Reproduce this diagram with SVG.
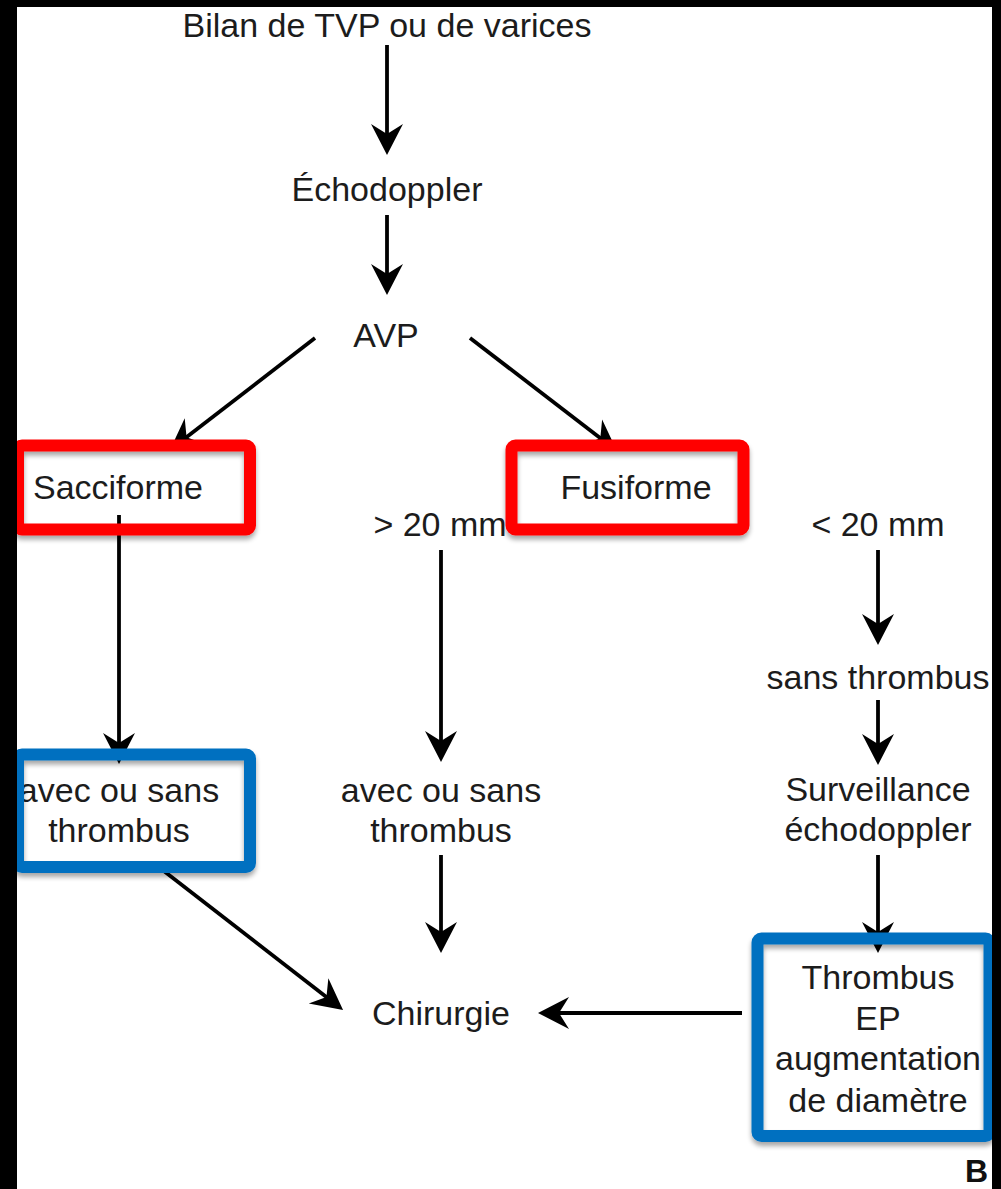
<svg xmlns="http://www.w3.org/2000/svg" width="1001" height="1189" viewBox="0 0 1001 1189">
<defs>
<style>
.t{font-family:"Liberation Sans",Arial,sans-serif;font-size:34px;fill:#1c1c1c;text-anchor:middle}
.l{stroke:#000;stroke-width:3.8;fill:none}
.red{fill:none;stroke:#ff0000;stroke-width:12}
.blue{fill:none;stroke:#0070c0;stroke-width:12}
</style>
<marker id="ah" markerUnits="userSpaceOnUse" markerWidth="60" markerHeight="60" refX="0" refY="0" orient="auto" overflow="visible">
<path d="M6,0 L-25,-16 L-15,0 L-25,16 Z" fill="#000"/>
</marker>
<filter id="sh" x="-10%" y="-10%" width="120%" height="130%">
<feGaussianBlur in="SourceAlpha" stdDeviation="2.5"/>
<feOffset dx="0" dy="4" result="b"/>
<feComponentTransfer><feFuncA type="linear" slope="0.35"/></feComponentTransfer>
<feMerge><feMergeNode/><feMergeNode in="SourceGraphic"/></feMerge>
</filter>
</defs>
<rect width="1001" height="1189" fill="#fff"/>
<g id="connectors">
<line class="l" x1="387" y1="45" x2="387" y2="149" marker-end="url(#ah)"/>
<line class="l" x1="387" y1="215" x2="387" y2="289" marker-end="url(#ah)"/>
<line class="l" x1="315" y1="338" x2="174.7" y2="446.3" marker-end="url(#ah)"/>
<line class="l" x1="470" y1="338" x2="612.2" y2="447.3" marker-end="url(#ah)"/>
<line class="l" x1="119" y1="515" x2="119" y2="758" marker-end="url(#ah)"/>
<line class="l" x1="441" y1="550" x2="441" y2="756" marker-end="url(#ah)"/>
<line class="l" x1="441" y1="855" x2="441" y2="947" marker-end="url(#ah)"/>
<line class="l" x1="160" y1="868" x2="338.3" y2="1006.3" marker-end="url(#ah)"/>
<line class="l" x1="742" y1="1013" x2="544" y2="1013" marker-end="url(#ah)"/>
<line class="l" x1="878" y1="550" x2="878" y2="639" marker-end="url(#ah)"/>
<line class="l" x1="878" y1="700" x2="878" y2="759" marker-end="url(#ah)"/>
<line class="l" x1="878" y1="855" x2="878" y2="947" marker-end="url(#ah)"/>
</g>
<g id="n-bilan"><text class="t" x="387" y="37">Bilan de TVP ou de varices</text></g>
<g id="n-echo"><text class="t" x="387" y="201">Échodoppler</text></g>
<g id="n-avp"><text class="t" x="386" y="347">AVP</text></g>
<g id="n-gt20"><text class="t" x="440" y="536">&gt; 20 mm</text></g>
<g id="n-lt20"><text class="t" x="878" y="536">&lt; 20 mm</text></g>
<g id="n-sacc">
<text class="t" x="118" y="499">Sacciforme</text>
<rect class="red" x="18" y="445.5" width="232" height="84" rx="4" filter="url(#sh)"/>
</g>
<g id="n-fusi">
<rect x="517" y="452" width="221" height="72" fill="#fff"/>
<text class="t" x="636" y="499">Fusiforme</text>
<rect class="red" x="511.5" y="445.5" width="232" height="84" rx="4" filter="url(#sh)"/>
</g>
<g id="n-avec1">
<text class="t" x="119" y="802">avec ou sans</text>
<text class="t" x="119" y="842">thrombus</text>
<rect class="blue" x="18" y="754.5" width="232" height="112.5" rx="4" filter="url(#sh)"/>
</g>
<g id="n-avec2">
<text class="t" x="441" y="802">avec ou sans</text>
<text class="t" x="441" y="842">thrombus</text>
</g>
<g id="n-sans"><text class="t" x="878" y="689">sans thrombus</text></g>
<g id="n-surv">
<text class="t" x="878" y="801">Surveillance</text>
<text class="t" x="878" y="841">échodoppler</text>
</g>
<g id="n-chir"><text class="t" x="441" y="1025">Chirurgie</text></g>
<g id="n-thromb">
<text class="t" x="878" y="989">Thrombus</text>
<text class="t" x="878" y="1030">EP</text>
<text class="t" x="878" y="1070">augmentation</text>
<text class="t" x="878" y="1112">de diamètre</text>
<rect class="blue" x="757.5" y="938.5" width="232" height="197.5" rx="4" filter="url(#sh)"/>
</g>
<text x="965" y="1182" style="font-family:'Liberation Sans',Arial,sans-serif;font-size:32px;font-weight:bold;fill:#111">B</text>
<g id="frame" fill="#000">
<rect x="0" y="0" width="1001" height="7"/>
<rect x="0" y="0" width="17" height="1189"/>
<rect x="992" y="0" width="9" height="1189"/>
</g>
</svg>
